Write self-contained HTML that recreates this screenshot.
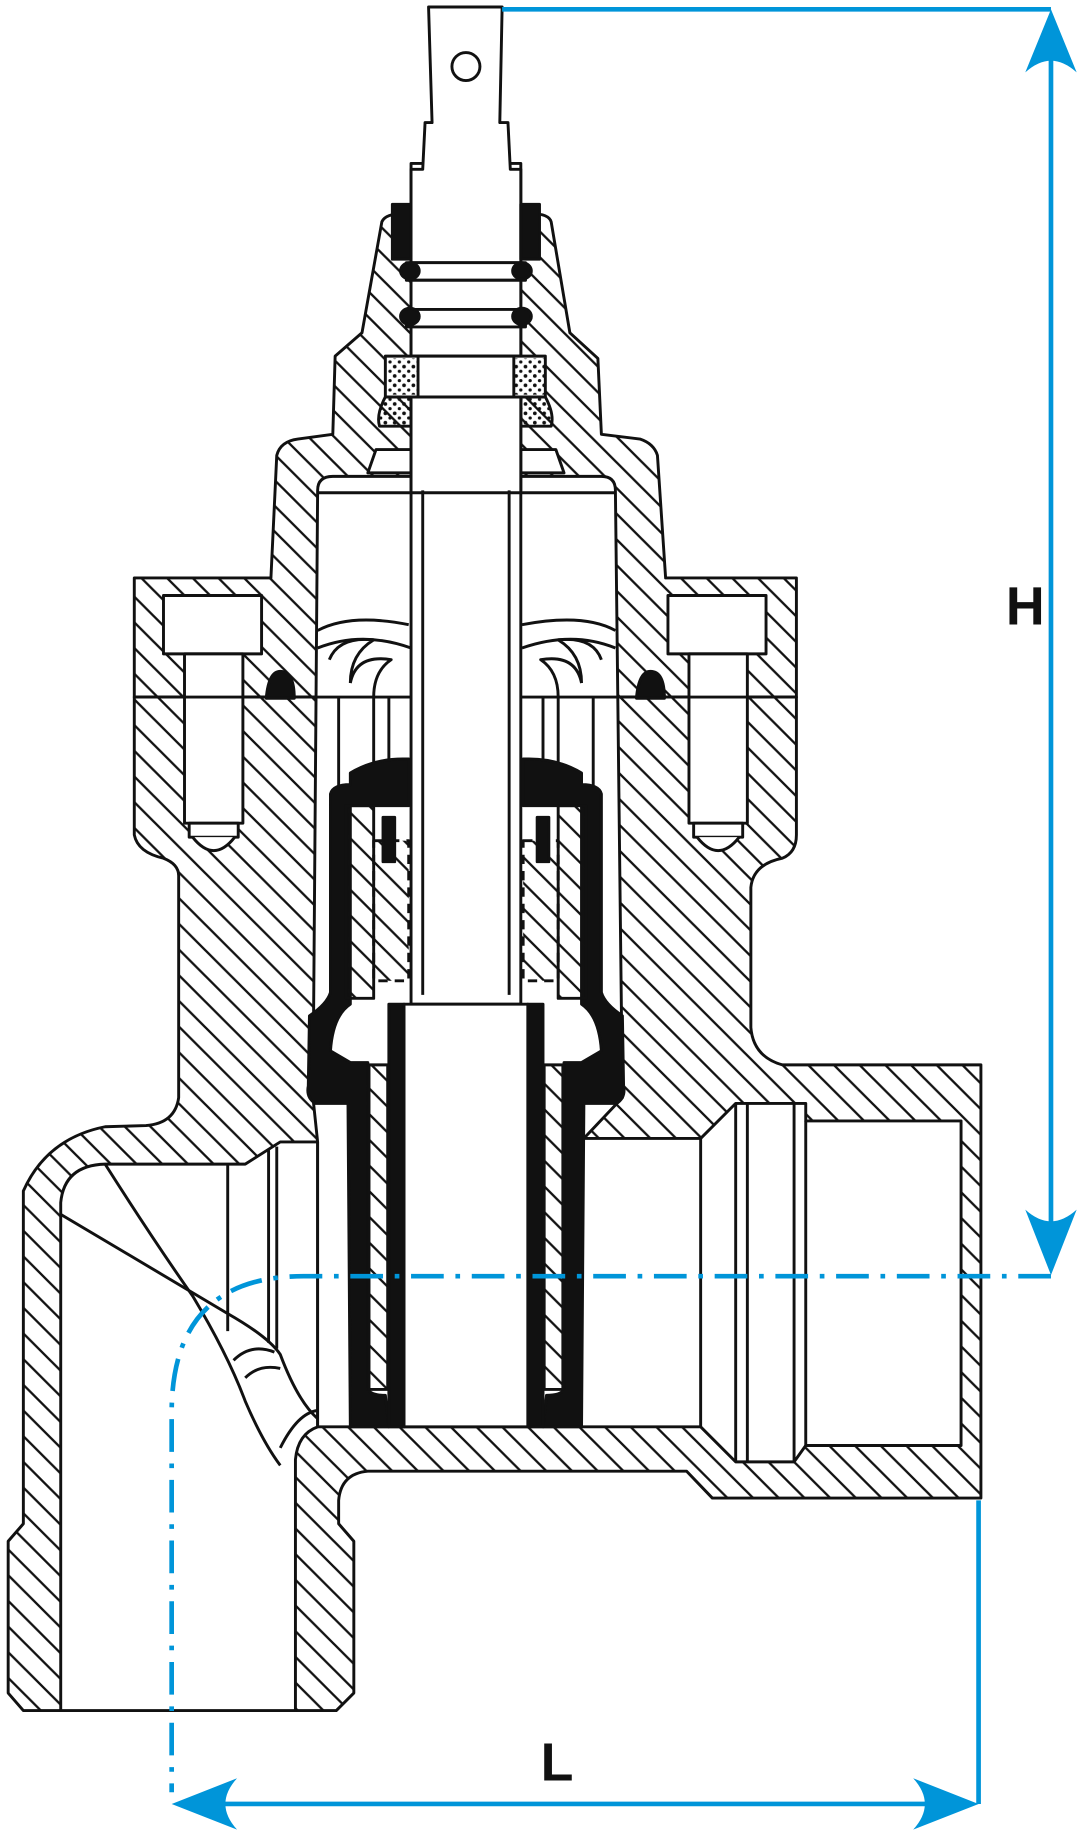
<!DOCTYPE html>
<html><head><meta charset="utf-8"><style>
html,body{margin:0;padding:0;background:#fff;}
svg{display:block;}
</style></head><body>
<svg width="1079" height="1832" viewBox="0 0 924 1569" preserveAspectRatio="none" xmlns="http://www.w3.org/2000/svg">
<defs>
<pattern id="h" patternUnits="userSpaceOnUse" width="22" height="22">
<path d="M-3,-3 L25,25 M-3,19 L3,25 M19,-3 L25,3" stroke="#111" stroke-width="2"/>
</pattern>
<pattern id="dots" patternUnits="userSpaceOnUse" width="8" height="8">
<circle cx="2" cy="2" r="1.6" fill="#111"/><circle cx="6" cy="6" r="1.4" fill="#111"/>
</pattern>
</defs>
<g stroke="#111" stroke-width="2.5" stroke-linejoin="round">
<path fill="url(#h)" d="M153,750 L153,940 Q150,962 125,964 L90,965 Q40,975 20,1020 L20,1305 L7,1320 L7,1450 L20,1465 L288,1465 L303,1450 L303,1320 L290,1305 L290,1285 Q292,1262 315,1260 L588,1260 L610,1283 L840,1283 L840,912 L670,912 Q645,905 643,880 L643,760 Q645,740 670,735 Q682,730 682,715 L682,597 L115,597 L115,715 Q118,730 140,735 Q153,740 153,750 Z"/>
<path fill="url(#h)" d="M115,495 L232,495 L237,390 Q240,378 255,376 L285,372 L287,305 L310,285 L327,190 Q330,183 345,183 L455,183 Q470,183 472,190 L488,285 L512,307 L515,372 L548,376 Q560,380 563,390 L570,495 L682,495 L682,597 L115,597 Z"/>
<path fill="#fff" d="M52,1030 Q55,998 90,997 L210,997 L240,978 L272,978 L272,1222 Q255,1228 253,1250 L253,1465 L52,1465 Z"/>
<path fill="#fff" d="M272,420 Q272,408 285,408 L515,408 Q527,408 527,420 L533,940 L500,975 L600,975 L630,945 L690,945 L690,960 L823,960 L823,1238 L690,1238 L680,1252 L630,1252 L600,1222 L272,1222 L272,978 L268,940 Z"/>
<rect x="352" y="140" width="94" height="280" fill="#fff"/>
<rect x="140" y="510" width="84" height="50" fill="#fff"/>
<rect x="158" y="560" width="50" height="145" fill="#fff"/>
<rect x="162" y="705" width="42" height="12" fill="#fff"/>
<path d="M165,717 Q183,740 201,717" fill="#fff"/>
<rect x="572" y="510" width="84" height="50" fill="#fff"/>
<rect x="590" y="560" width="50" height="145" fill="#fff"/>
<rect x="594" y="705" width="42" height="12" fill="#fff"/>
<path d="M597,717 Q615,740 633,717" fill="#fff"/>
<line x1="115" y1="597" x2="682" y2="597"/>
<path d="M228,598 Q230,575 240,575 Q252,575 252,598 Z" fill="#111"/>
<path d="M545,598 Q547,575 557,575 Q569,575 569,598 Z" fill="#111"/>
<line x1="600" y1="975" x2="600" y2="1222" fill="none"/>
<line x1="630" y1="945" x2="630" y2="1252" fill="none"/>
<line x1="640" y1="945" x2="640" y2="1252" fill="none"/>
<line x1="680" y1="945" x2="680" y2="1252" fill="none"/>
<line x1="690" y1="960" x2="690" y2="1238" fill="none"/>
<line x1="195" y1="997" x2="195" y2="1140" fill="none"/>
<line x1="230" y1="985" x2="230" y2="1150" fill="none"/>
<line x1="237" y1="982" x2="237" y2="1155" fill="none"/>
<path d="M52,1040 L195,1125 Q230,1145 240,1160 Q255,1200 272,1215" fill="none"/>
<path d="M90,997 Q130,1060 165,1110 Q195,1160 210,1200 Q225,1235 240,1255" fill="none"/>
<path d="M200,1165 Q215,1150 235,1158 M210,1180 Q222,1168 240,1172 M240,1240 Q255,1210 272,1208" fill="none"/>
<path fill="#fff" d="M367,6 L430,6 L428,105 L435,105 L437,145 L446,145 L446,225 L352,225 L352,145 L362,145 L364,105 L370,105 Z"/>
<circle cx="399" cy="57" r="12" fill="none"/>
<rect x="348" y="225" width="102" height="15" fill="#fff"/>
<rect x="352" y="240" width="94" height="25" fill="#fff"/>
<rect x="348" y="265" width="102" height="15" fill="#fff"/>
<rect x="352" y="280" width="94" height="25" fill="#fff"/>
<rect x="330" y="305" width="137" height="35" fill="#fff"/>
<rect x="332" y="307" width="26" height="31" fill="url(#dots)" stroke="none"/>
<rect x="440" y="307" width="26" height="31" fill="url(#dots)" stroke="none"/>
<line x1="358" y1="305" x2="358" y2="340"/><line x1="440" y1="305" x2="440" y2="340"/>
<path d="M336,175 L352,175 L352,222 L336,222 Z M446,175 L462,175 L462,222 L446,222 Z" fill="#111"/>
<ellipse cx="351" cy="232" rx="8" ry="7" fill="#111"/><ellipse cx="447" cy="232" rx="8" ry="7" fill="#111"/>
<ellipse cx="351" cy="271" rx="8" ry="7" fill="#111"/><ellipse cx="447" cy="271" rx="8" ry="7" fill="#111"/>
<path d="M330,340 Q322,355 325,365 L352,365 L352,340 Z M467,340 Q475,355 472,365 L446,365 L446,340 Z" fill="url(#dots)"/>
<path d="M315,405 L322,385 L352,385 L352,405 Z M483,405 L476,385 L446,385 L446,405 Z" fill="#fff"/>
<rect x="352" y="340" width="94" height="520" fill="#fff"/>
<line x1="362" y1="420" x2="362" y2="852"/><line x1="436" y1="420" x2="436" y2="852"/>
<line x1="272" y1="422" x2="527" y2="422"/>
<path d="M272,540 Q300,525 350,535 M527,540 Q500,525 447,535 M272,555 Q310,540 352,555 M527,555 Q490,540 447,555" fill="none"/>
<path d="M282,565 Q290,545 320,548 Q300,560 300,585 M300,585 Q305,560 335,565 Q320,575 320,597 M515,565 Q508,545 478,548 Q498,560 498,585 M498,585 Q493,560 463,565 Q478,575 478,597" fill="none"/>
<line x1="290" y1="597" x2="290" y2="680"/><line x1="320" y1="597" x2="320" y2="660"/><line x1="333" y1="597" x2="333" y2="650"/>
<line x1="508" y1="597" x2="508" y2="680"/><line x1="478" y1="597" x2="478" y2="660"/><line x1="465" y1="597" x2="465" y2="650"/>
<path fill="#111" d="M300,662 Q320,650 345,650 L350,650 L350,690 L300,690 L300,860 Q285,870 283,900 L300,910 L315,910 L315,1190 Q318,1195 330,1195 L333,1222 L300,1222 L298,945 L270,945 Q262,940 264,930 L265,870 Q280,860 283,850 L283,680 Q285,672 300,672 Z"/>
<path fill="#111" d="M498,662 Q478,650 453,650 L448,650 L448,690 L498,690 L498,860 Q513,870 515,900 L498,910 L483,910 L483,1190 Q480,1195 468,1195 L465,1222 L498,1222 L500,945 L528,945 Q536,940 534,930 L533,870 Q518,860 515,850 L515,680 Q513,672 498,672 Z"/>
<rect x="333" y="860" width="13" height="362" fill="#111"/>
<rect x="452" y="860" width="13" height="362" fill="#111"/>
<rect x="296" y="690" width="24" height="165" fill="url(#h)"/>
<rect x="478" y="690" width="24" height="165" fill="url(#h)"/>
<rect x="316" y="912" width="16" height="278" fill="url(#h)"/>
<rect x="466" y="912" width="16" height="278" fill="url(#h)"/>
<rect x="320" y="720" width="30" height="120" fill="url(#h)" stroke-dasharray="8 6"/>
<rect x="448" y="720" width="30" height="120" fill="url(#h)" stroke-dasharray="8 6"/>
<rect x="346" y="860" width="106" height="362" fill="#fff"/>
<rect x="328" y="700" width="10" height="38" fill="#111"/><rect x="460" y="700" width="10" height="38" fill="#111"/>
</g>
<g stroke="#0095d9" stroke-width="4" fill="none">
<line x1="430" y1="8" x2="900" y2="8"/>
<line x1="900" y1="20" x2="900" y2="1080"/>
<line x1="838" y1="1285" x2="838" y2="1545"/>
<line x1="160" y1="1545" x2="826" y2="1545"/>
<path d="M900,1093 L260,1093 Q147,1093 147,1210 L147,1535" stroke-dasharray="28 10 4 10"/>
</g>
<g fill="#0095d9">
<path d="M900,8 L922,62 Q900,42 878,62 Z"/>
<path d="M900,1092 L922,1036 Q900,1056 878,1036 Z"/>
<path d="M147,1545 L203,1523 Q183,1545 203,1567 Z"/>
<path d="M838,1545 L782,1523 Q802,1545 782,1567 Z"/>
</g>
<text x="878" y="535" font-family="Liberation Sans, sans-serif" font-weight="bold" font-size="46" fill="#111" text-anchor="middle">H</text>
<text x="477" y="1525" font-family="Liberation Sans, sans-serif" font-weight="bold" font-size="46" fill="#111" text-anchor="middle">L</text>
</svg>
</body></html>
